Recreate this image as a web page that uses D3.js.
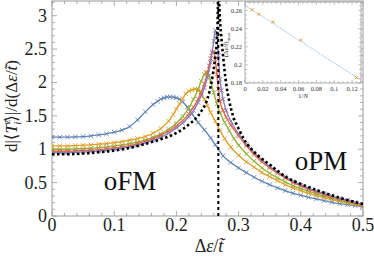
<!DOCTYPE html>
<html><head><meta charset="utf-8">
<script src="https://cdn.jsdelivr.net/npm/d3@7"></script>
<style>body{margin:0;background:#fff}svg{display:block}text{font-family:"Liberation Serif","DejaVu Serif",serif}</style>
</head><body>
<svg id="c" width="374" height="256"></svg>
<script>
// ---- data ----
const xBlue = [0,0.0125,0.025,0.0375,0.05,0.0625,0.075,0.0875,0.1,0.1125,0.125,0.1375,0.15,0.1625,0.17,0.175,0.18,0.185,0.19,0.195,0.2,0.205,0.21,0.2175,0.225,0.235,0.245,0.255,0.2625,0.275,0.2875,0.3,0.3125,0.325,0.3375,0.35,0.3625,0.375,0.3875,0.4,0.4125,0.425,0.4375,0.45,0.4625,0.475,0.4875,0.5];
const yBlue = [1.18,1.18,1.18,1.185,1.19,1.2,1.215,1.23,1.255,1.285,1.34,1.44,1.56,1.67,1.72,1.75,1.77,1.78,1.785,1.78,1.77,1.75,1.71,1.63,1.53,1.4,1.29,1.17,1.07,0.9,0.8,0.72,0.65,0.58,0.52,0.47,0.42,0.38,0.34,0.31,0.28,0.255,0.23,0.205,0.185,0.17,0.155,0.14];
const xOrange = [0,0.0125,0.025,0.0375,0.05,0.0625,0.075,0.0875,0.1,0.1125,0.125,0.1375,0.15,0.1625,0.175,0.1875,0.195,0.2,0.205,0.21,0.215,0.22,0.225,0.23,0.235,0.24,0.245,0.25,0.255,0.2625,0.27,0.2775,0.2875,0.3,0.3125,0.325,0.3375,0.35,0.3625,0.375,0.3875,0.4,0.4125,0.425,0.4375,0.45,0.4625,0.475,0.4875,0.5];
const yOrange = [1.05,1.05,1.05,1.055,1.06,1.065,1.075,1.085,1.1,1.115,1.135,1.16,1.19,1.24,1.31,1.42,1.52,1.6,1.68,1.76,1.83,1.87,1.89,1.9,1.88,1.83,1.75,1.65,1.55,1.42,1.28,1.16,1.03,0.91,0.81,0.73,0.65,0.59,0.53,0.47,0.42,0.38,0.34,0.305,0.275,0.245,0.22,0.195,0.172,0.15];
const xGreen = [0,0.0125,0.025,0.0375,0.05,0.0625,0.075,0.0875,0.1,0.1125,0.125,0.1375,0.15,0.1625,0.175,0.1875,0.2,0.21,0.22,0.2275,0.235,0.24,0.245,0.2475,0.25,0.2525,0.255,0.26,0.265,0.27,0.2775,0.285,0.2925,0.3,0.3125,0.325,0.3375,0.35,0.3625,0.375,0.3875,0.4,0.4125,0.425,0.4375,0.45,0.4625,0.475,0.4875,0.5];
const yGreen = [1.0,1.0,1.0,1.005,1.01,1.015,1.025,1.035,1.05,1.065,1.085,1.11,1.14,1.18,1.23,1.3,1.39,1.49,1.62,1.75,1.9,2.02,2.12,2.15,2.14,2.1,2.02,1.85,1.68,1.55,1.4,1.28,1.16,1.06,0.93,0.82,0.72,0.64,0.57,0.51,0.455,0.41,0.37,0.33,0.295,0.265,0.235,0.21,0.185,0.16];
const xRed = [0,0.0125,0.025,0.0375,0.05,0.0625,0.075,0.0875,0.1,0.1125,0.125,0.1375,0.15,0.1625,0.175,0.1875,0.2,0.21,0.22,0.2275,0.235,0.24,0.245,0.25,0.2525,0.255,0.2575,0.26,0.2625,0.265,0.2675,0.27,0.275,0.28,0.2875,0.3,0.3125,0.325,0.3375,0.35,0.3625,0.375,0.3875,0.4,0.4125,0.425,0.4375,0.45,0.4625,0.475,0.4875,0.5];
const yRed = [0.97,0.97,0.97,0.975,0.98,0.985,0.995,1.005,1.02,1.035,1.055,1.085,1.12,1.16,1.21,1.27,1.35,1.43,1.53,1.63,1.75,1.86,1.98,2.15,2.25,2.36,2.45,2.46,2.35,2.12,1.9,1.72,1.58,1.48,1.36,1.2,1.05,0.92,0.81,0.72,0.64,0.57,0.5,0.45,0.4,0.36,0.32,0.285,0.255,0.225,0.195,0.168];
const xPurple = [0,0.0125,0.025,0.0375,0.05,0.0625,0.075,0.0875,0.1,0.1125,0.125,0.1375,0.15,0.1625,0.175,0.1875,0.2,0.21,0.22,0.2275,0.235,0.24,0.245,0.25,0.255,0.2575,0.26,0.2625,0.265,0.2675,0.27,0.2725,0.275,0.28,0.2875,0.3,0.3125,0.325,0.3375,0.35,0.3625,0.375,0.3875,0.4,0.4125,0.425,0.4375,0.45,0.4625,0.475,0.4875,0.5];
const yPurple = [0.95,0.95,0.95,0.955,0.96,0.965,0.975,0.985,1.0,1.015,1.035,1.06,1.095,1.135,1.18,1.24,1.32,1.39,1.49,1.58,1.7,1.8,1.92,2.08,2.3,2.45,2.62,2.78,2.7,2.4,2.05,1.88,1.75,1.58,1.42,1.23,1.08,0.95,0.84,0.74,0.66,0.59,0.52,0.465,0.415,0.375,0.335,0.3,0.265,0.235,0.205,0.172];
const xLimLeft = [0,0.025,0.05,0.075,0.1,0.125,0.15,0.175,0.195,0.21,0.22,0.233,0.24,0.249,0.257,0.262,0.265,0.2665,0.267];
const yLimLeft = [0.925,0.925,0.935,0.955,0.98,1.02,1.08,1.15,1.22,1.3,1.37,1.48,1.57,1.73,2.03,2.35,2.63,3.0,3.4];
const xLimRight = [0.268,0.27,0.2725,0.275,0.28,0.285,0.291,0.3,0.308,0.324,0.35,0.377,0.4,0.431,0.46,0.5];
const yLimRight = [3.4,2.95,2.65,2.4,1.98,1.72,1.5,1.31,1.16,0.97,0.77,0.58,0.48,0.37,0.28,0.178];
const criticalX = 0.2674;
const seriesColors = ["#5E81B5","#E19C24","#8FB032","#EB6235","#8778B3"];
const xTicks = [0,0.1,0.2,0.3,0.4,0.5];
const yTicks = [0,0.5,1,1.5,2,2.5,3];
// inset
const invN = [1/128,1/64,1/32,1/16,1/8];
const deltaMax = [0.261,0.256,0.2475,0.2275,0.186];
const fitX = [0,0.13];
const fitY = [0.2658,0.1831];
const insetXTicks = [0,0.02,0.04,0.06,0.08,0.1,0.12];
const insetYTicks = [0.18,0.2,0.22,0.24,0.26];

// ---- chart ----
const svg = d3.select("#c");
const x = d3.scaleLinear().domain([0,0.5]).range([52,363]);
const y = d3.scaleLinear().domain([0,3.22]).range([216,1]);
const frameCol = "#9a9a9a";

svg.append("clipPath").attr("id","clip").append("rect")
  .attr("x",52).attr("y",1).attr("width",311).attr("height",215);

// frame + ticks
const g = svg.append("g");
function ticksAxis(minor, major, scaleFn, axisFn){
}
const xMinor = d3.range(0,0.5001,0.02);
const yMinor = d3.range(0,3.2001,0.1);
xMinor.forEach(v=>{
  const isMaj = xTicks.some(t=>Math.abs(t-v)<1e-9);
  const L = isMaj?5:3;
  g.append("line").attr("x1",x(v)).attr("x2",x(v)).attr("y1",216).attr("y2",216-L).attr("stroke",frameCol).attr("stroke-width",0.8);
  g.append("line").attr("x1",x(v)).attr("x2",x(v)).attr("y1",1).attr("y2",1+L).attr("stroke",frameCol).attr("stroke-width",0.8);
});
yMinor.forEach(v=>{
  const isMaj = yTicks.some(t=>Math.abs(t-v)<1e-9);
  const L = isMaj?5:3;
  g.append("line").attr("x1",52).attr("x2",52+L).attr("y1",y(v)).attr("y2",y(v)).attr("stroke",frameCol).attr("stroke-width",0.8);
  g.append("line").attr("x1",363).attr("x2",363-L).attr("y1",y(v)).attr("y2",y(v)).attr("stroke",frameCol).attr("stroke-width",0.8);
});
g.append("rect").attr("x",52).attr("y",1).attr("width",311).attr("height",215)
  .attr("fill","none").attr("stroke",frameCol).attr("stroke-width",1);

// tick labels
xTicks.forEach(v=>{
  svg.append("text").attr("x",x(v)).attr("y",231).attr("text-anchor","middle")
    .attr("font-size",18).attr("fill","#222").text(v===0?"0":String(v));
});
yTicks.forEach(v=>{
  svg.append("text").attr("x",47).attr("y",y(v)+6).attr("text-anchor","end")
    .attr("font-size",18).attr("fill","#222").text(String(v));
});

// axis titles
const xt = svg.append("text").attr("x",209).attr("y",252).attr("text-anchor","middle").attr("font-size",18).attr("fill","#222");
xt.append("tspan").text("Δ");
xt.append("tspan").attr("font-style","italic").text("ε");
xt.append("tspan").text("/");
xt.append("tspan").attr("font-style","italic").text("t\u0303");

const yt = svg.append("text").attr("transform","translate(17,106) rotate(-90)").attr("text-anchor","middle").attr("font-size",17).attr("fill","#222");
yt.append("tspan").text("d|⟨");
yt.append("tspan").attr("font-style","italic").text("T");
yt.append("tspan").attr("font-style","italic").attr("font-size",11).attr("dy",-7).text("z");
yt.append("tspan").attr("font-style","italic").attr("font-size",11).attr("dx",-5).attr("dy",11).text("i");
yt.append("tspan").attr("dy",-4).text("⟩|/d(Δ");
yt.append("tspan").attr("font-style","italic").text("ε");
yt.append("tspan").text("/");
yt.append("tspan").attr("font-style","italic").text("t\u0303");
yt.append("tspan").text(")");

// region labels
svg.append("text").attr("x",130).attr("y",190).attr("text-anchor","middle").attr("font-size",27).attr("fill","#111").text("oFM");
svg.append("text").attr("x",321).attr("y",170).attr("text-anchor","middle").attr("font-size",27).attr("fill","#111").text("oPM");

// curves
const plot = svg.append("g").attr("clip-path","url(#clip)");
const line = d3.line().x(d=>x(d[0])).y(d=>y(d[1])).curve(d3.curveMonotoneX);
const series = [[xBlue,yBlue],[xOrange,yOrange],[xGreen,yGreen],[xRed,yRed],[xPurple,yPurple]];
function cross(sel, px, py, s, col, w){
  sel.append("path").attr("d",`M${px-s},${py-s}L${px+s},${py+s}M${px-s},${py+s}L${px+s},${py-s}`)
    .attr("stroke",col).attr("stroke-width",w).attr("fill","none");
}
series.forEach((s,i)=>{
  const pts = s[0].map((v,k)=>[v,s[1][k]]);
  plot.append("path").attr("d",line(pts)).attr("fill","none").attr("stroke",seriesColors[i]).attr("stroke-width",1.3);
  pts.forEach(p=>cross(plot, x(p[0]), y(p[1]), 2.2, seriesColors[i], 0.9));
});
// limit curve
const limL = xLimLeft.map((v,k)=>[v,yLimLeft[k]]);
const limR = xLimRight.map((v,k)=>[v,yLimRight[k]]);
[limL,limR].forEach(pts=>{
  plot.append("path").attr("d",line(pts)).attr("fill","none").attr("stroke","#000")
    .attr("stroke-width",2.6).attr("stroke-dasharray","2.5,2.5");
});
// critical line
plot.append("line").attr("x1",x(criticalX)).attr("x2",x(criticalX)).attr("y1",216).attr("y2",1)
  .attr("stroke","#000").attr("stroke-width",2).attr("stroke-dasharray","3,3");

// ---- inset ----
const ix = d3.scaleLinear().domain([0,0.13]).range([245,361]);
const iy = d3.scaleLinear().domain([0.18,0.2695]).range([83,2]);
const ins = svg.append("g");
ins.append("rect").attr("x",245).attr("y",2).attr("width",116).attr("height",81).attr("fill","#fff");
d3.range(0,0.1301,0.005).forEach(v=>{
  const isMaj = insetXTicks.some(t=>Math.abs(t-v)<1e-9);
  const L = isMaj?3:1.8;
  ins.append("line").attr("x1",ix(v)).attr("x2",ix(v)).attr("y1",83).attr("y2",83-L).attr("stroke",frameCol).attr("stroke-width",0.6);
  ins.append("line").attr("x1",ix(v)).attr("x2",ix(v)).attr("y1",2).attr("y2",2+L).attr("stroke",frameCol).attr("stroke-width",0.6);
});
d3.range(0.18,0.2696,0.005).forEach(v=>{
  const isMaj = insetYTicks.some(t=>Math.abs(t-v)<1e-9);
  const L = isMaj?3:1.8;
  ins.append("line").attr("x1",245).attr("x2",245+L).attr("y1",iy(v)).attr("y2",iy(v)).attr("stroke",frameCol).attr("stroke-width",0.6);
  ins.append("line").attr("x1",361).attr("x2",361-L).attr("y1",iy(v)).attr("y2",iy(v)).attr("stroke",frameCol).attr("stroke-width",0.6);
});
ins.append("rect").attr("x",245).attr("y",2).attr("width",116).attr("height",81).attr("fill","none").attr("stroke",frameCol).attr("stroke-width",0.8);
insetXTicks.forEach(v=>{
  ins.append("text").attr("x",ix(v)).attr("y",91).attr("text-anchor","middle").attr("font-size",6.5).attr("fill","#333").text(String(v));
});
insetYTicks.forEach(v=>{
  ins.append("text").attr("x",242).attr("y",iy(v)+2.2).attr("text-anchor","end").attr("font-size",6.5).attr("fill","#333").text(String(v));
});
const ixl = ins.append("text").attr("x",303).attr("y",98).attr("text-anchor","middle").attr("font-size",7).attr("fill","#333");
ixl.append("tspan").text("1/");
ixl.append("tspan").attr("font-style","italic").text("N");
const iyl = ins.append("text").attr("transform","translate(228,45) rotate(-90)").attr("text-anchor","middle").attr("font-size",7).attr("fill","#333");
iyl.append("tspan").text("(Δ");
iyl.append("tspan").attr("font-style","italic").text("ε");
iyl.append("tspan").text("/");
iyl.append("tspan").attr("font-style","italic").text("t\u0303");
iyl.append("tspan").text(")");
iyl.append("tspan").attr("font-size",5).attr("dy",1.5).text("max");
ins.append("path").attr("d",d3.line().x(d=>ix(d[0])).y(d=>iy(d[1]))(fitX.map((v,k)=>[v,fitY[k]])))
  .attr("stroke","#7fb2e0").attr("stroke-width",0.9).attr("stroke-dasharray","1.2,1").attr("fill","none");
invN.forEach((v,k)=>cross(ins, ix(v), iy(deltaMax[k]), 1.5, "#E19C24", 0.9));
</script>
</body></html>
